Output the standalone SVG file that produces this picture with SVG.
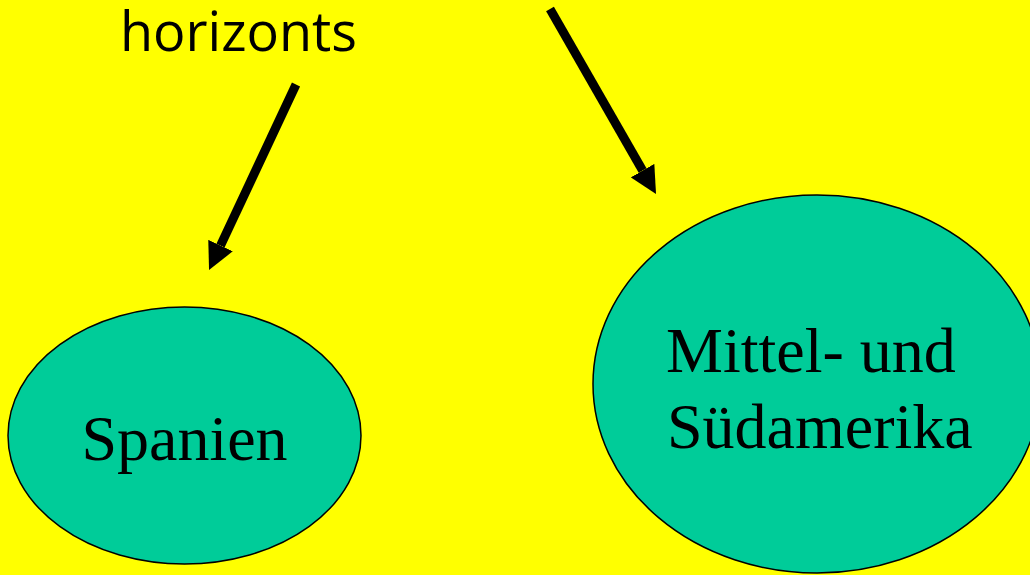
<svg xmlns="http://www.w3.org/2000/svg" width="1030" height="575" viewBox="0 0 1030 575">
<style>
.node{fill:#00CC99;stroke:#000;stroke-width:1.5}
.lbl{font-family:"Liberation Serif","Times New Roman",serif;font-size:64px;fill:#000}
.head{font-family:"Open Sans","Liberation Sans",sans-serif;font-size:55px;fill:#000}
.conn{stroke:#000;stroke-width:9;fill:none;marker-end:url(#ah)}
</style>
<defs>
<marker id="ah" viewBox="0 0 3 3" refX="0" refY="1.5" markerWidth="3" markerHeight="3" markerUnits="strokeWidth" orient="auto">
<path d="M0,0 L3,1.5 L0,3 z" fill="#000"/>
</marker>
</defs>
<rect width="1030" height="575" fill="#FFFF00"/>
<text class="head" x="120" y="51" textLength="237" lengthAdjust="spacingAndGlyphs">horizonts</text>
<g id="connectors">
<line class="conn" x1="296" y1="84.5" x2="220.5" y2="245.6"/>
<line class="conn" x1="550" y1="9" x2="642.6" y2="170.6"/>
</g>
<g id="spanien">
<ellipse class="node" cx="184.5" cy="435.5" rx="176.5" ry="128.5"/>
<text class="lbl" x="184.5" y="460" text-anchor="middle">Spanien</text>
</g>
<g id="amerika">
<ellipse class="node" cx="817" cy="384" rx="224" ry="189"/>
<text class="lbl" x="666" y="372">Mittel- und</text>
<text class="lbl" x="667" y="448">Südamerika</text>
</g>
</svg>
